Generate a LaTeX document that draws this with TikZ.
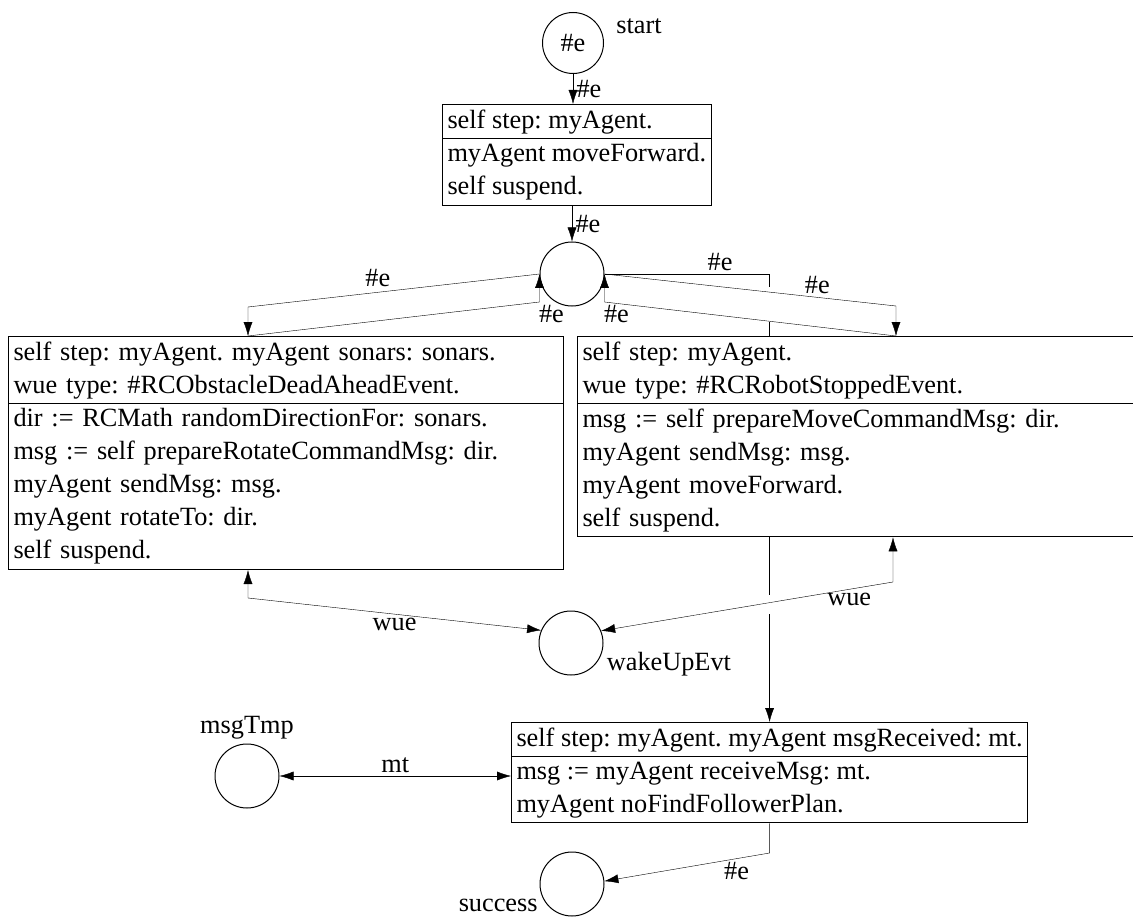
\documentclass[tikz,border=0pt]{standalone}
\usepackage{fontspec}
\setmainfont{Liberation Serif}
\frenchspacing
\usetikzlibrary{arrows.meta}
\usetikzlibrary{shapes.multipart}
\usetikzlibrary{backgrounds}
\tikzset{>={Latex[length=14pt,width=9pt]}}
\tikzset{place/.style={circle, draw=black, minimum size=64pt, inner sep=0pt}}
\tikzset{plan/.style={rectangle split, rectangle split parts=2,
    rectangle split part align=left, draw=black, fill=white,
    align=left, inner xsep=5pt, inner ysep=4.5pt, anchor=north west}}

\begin{document}
\begin{tikzpicture}[x=1pt, y=-1pt, line width=1pt,
    font=\fontsize{26.3}{33}\selectfont]

    \useasboundingbox (0,0) rectangle (1133,920);

    \node[place, minimum size=61pt, label={[label distance=9pt]8:start}] (start) at (573,43) {\#e};
    \node[plan] (mv) at (442,104) {self step: myAgent.
        \nodepart{two} myAgent moveForward.\\ self suspend.};
    \node[place] (hub) at (572,274) {};
    \node[plan, text width=545pt] (lt) at (8,336) {self step: myAgent. myAgent sonars: sonars.\\
        wue type: \#RCObstacleDeadAheadEvent.
        \nodepart{two} dir := RCMath randomDirectionFor: sonars.\\
        msg := self prepareRotateCommandMsg: dir.\\
        myAgent sendMsg: msg.\\
        myAgent rotateTo: dir.\\
        self suspend.};
    \node[plan, text width=555pt] (rt) at (577,336) {self step: myAgent.\\
        wue type: \#RCRobotStoppedEvent.
        \nodepart{two} msg := self prepareMoveCommandMsg: dir.\\
        myAgent sendMsg: msg.\\
        myAgent moveForward.\\
        self suspend.};
    \node[place, label={-10:wakeUpEvt}] (wake) at (571,643) {};
    \node[place, label=above:msgTmp] (tmp) at (247,776) {};
    \node[plan] (mr) at (511,722) {self step: myAgent. myAgent msgReceived: mt.
        \nodepart{two} msg := myAgent receiveMsg: mt.\\ myAgent noFindFollowerPlan.};
    \node[place, label={200:success}] (succ) at (572,884) {};

    % bends of the arcs
    \coordinate (lout) at (248,307);
    \coordinate (rout) at (896,306);
    \path (hub.west) ++(0,28) coordinate (lin);
    \path (hub.east) ++(0,28) coordinate (rin);
    \coordinate (rdown) at (hub.east -| mr.north);
    \coordinate (lw) at (248,598);
    \coordinate (rw) at (893,582);
    \coordinate (sd) at (mr.south |- 0,853);

    \begin{scope}[on background layer]
        \draw[->] (hub.east) -- node[pos=0.7, above] {\#e} (rdown) -- (rdown |- mr.north);
        % hops where other arcs cross
        \draw[white, line width=3pt] (rdown |- 0,287) -- (rdown |- 0,322);
        \draw[white, line width=3pt] (rdown |- 0,595) -- (rdown |- 0,614);

        \draw[->] (start) -- node[right] {\#e} (start |- mv.north);
        \draw[->] (mv.south -| hub) -- node[right] {\#e} (hub);
        \draw[->] (hub.west) -- node[above left] {\#e} (lout) -- (lout |- lt.north);
        \draw[->] (lout |- lt.north) -- (lin) node[below, xshift=12pt] {\#e} -- (hub.west);
        \draw[->] (hub.east) -- node[pos=0.73, above] {\#e} (rout) -- (rout |- rt.north);
        \draw[->] (rout |- rt.north) -- (rin) node[below, xshift=12pt] {\#e} -- (hub.east);
        \draw[<->] (lw |- lt.south) -- (lw) -- node[below] {wue} (wake.157);
        \draw[<->] (rw |- rt.south) -- (rw) -- node[pos=0.15, below] {wue} (wake.22);
        \draw[<->] (tmp.east) -- node[above] {mt} (tmp.east -| mr.west);
        \draw[->] (mr.south) -- (sd) -- node[pos=0.2, below] {\#e} (succ.5);
    \end{scope}

\end{tikzpicture}
\end{document}
